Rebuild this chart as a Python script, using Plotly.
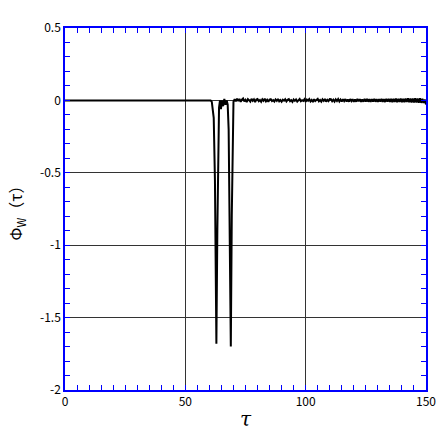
import numpy as np
import plotly.graph_objects as go

# flat part and the two dips
tau_head = [0, 60.5, 61.0, 61.8, 62.3, 62.9, 63.3, 63.6, 64.0, 64.4, 64.8, 65.2,
            65.7, 66.2, 66.7, 67.2, 67.6, 68.0, 68.5, 68.9, 69.3, 69.7, 70.0]
phi_head = [0.0, 0.0, -0.01, -0.12, -0.55, -1.68, -0.9, -0.25, -0.05, 0.0, -0.06, 0.0,
            -0.04, 0.01, -0.03, 0.0, -0.03, -0.2, -0.9, -1.70, -0.8, -0.15, -0.01]

# noisy tail, sampled every 0.5 from 70.5 to 150
tau_tail = np.arange(70.5, 150.01, 0.5)
phi_tail = [
    0.008, -0.006, 0.012, -0.004, 0.010, -0.010, 0.005, 0.013, -0.007, 0.004,
    -0.012, 0.009, 0.002, -0.008, 0.011, -0.003, 0.007, -0.011, 0.006, 0.010,
    -0.005, 0.003, -0.009, 0.008, -0.002, 0.012, -0.007, 0.004, -0.010, 0.006,
    0.009, -0.004, 0.002, -0.008, 0.007, -0.003, 0.010, -0.006, 0.003, -0.009,
    0.005, -0.002, 0.008, -0.007, 0.004, 0.009, -0.005, 0.002, -0.010, 0.006,
    -0.003, 0.007, -0.008, 0.004, 0.010, -0.006, 0.001, -0.004, 0.008, -0.009,
    0.006, -0.002, 0.009, -0.007, 0.003, -0.011, 0.008, -0.004, 0.005, 0.011,
    -0.006, 0.002, -0.009, 0.007, -0.003, 0.010, -0.008, 0.004, -0.005, 0.009,
    0.008, -0.006, 0.005, -0.008, 0.007, -0.004, 0.009, -0.007, 0.006, -0.008,
    0.008, -0.005, 0.009, -0.008, 0.006, -0.009, 0.009, -0.005, 0.008, -0.009,
    0.007, -0.009, 0.010, -0.007, 0.009, -0.010, 0.007, -0.009, 0.010, -0.008,
    0.010, -0.009, 0.008, -0.010, 0.009, -0.008, 0.011, -0.009, 0.008, -0.010,
    0.009, -0.008, 0.011, -0.010, 0.009, -0.011, 0.010, -0.009, 0.011, -0.010,
    0.010, -0.012, 0.011, -0.010, 0.012, -0.013, 0.010, -0.011, 0.012, -0.012,
    0.011, -0.013, 0.012, -0.011, 0.014, -0.013, 0.012, -0.014, 0.013, -0.014,
    0.014, -0.015, 0.013, -0.016, 0.015, -0.017, 0.012, -0.018, 0.006, -0.028,
]

x_ticks = [0, 50, 100, 150]
y_ticks = [0.5, 0, -0.5, -1, -1.5, -2]
y_labels = ["0.5", "0", "-0.5", "-1", "-1.5", "-2"]

tau = list(tau_head) + list(tau_tail)
phi = list(phi_head) + list(phi_tail)

fig = go.Figure()
fig.add_trace(go.Scatter(x=tau, y=phi, mode="lines", cliponaxis=False,
                         line=dict(color="black", width=2), showlegend=False))

axis_style = dict(
    showline=True, linecolor="blue", linewidth=1.5, mirror="ticks",
    ticks="inside", ticklen=5, tickcolor="blue", tickwidth=1,
    showgrid=True, gridcolor="#333333", gridwidth=1, zeroline=False,
    automargin=False, ticklabeloverflow="allow",
    tickfont=dict(family="Noto Sans CJK JP", size=12, color="black"),
)

fig.update_xaxes(range=[0, 150], tickvals=x_ticks, ticktext=[str(t) for t in x_ticks],
                 minor=dict(dtick=5, ticks="inside", ticklen=5, tickcolor="blue", showgrid=False),
                 title=dict(text="<i>τ</i>", font=dict(family="DejaVu Serif", size=20, color="black"),
                            standoff=4),
                 **axis_style)
fig.update_yaxes(range=[-2, 0.5], tickvals=y_ticks, ticktext=y_labels,
                 minor=dict(dtick=0.1, ticks="inside", ticklen=5, tickcolor="blue", showgrid=False),
                 title=dict(text="Φ<sub>W</sub>（τ）", font=dict(family="Noto Sans CJK JP", size=16, color="black"),
                            standoff=13),
                 **axis_style)

fig.update_layout(
    width=436, height=448,
    margin=dict(l=65, r=10, t=28, b=58),
    plot_bgcolor="white", paper_bgcolor="white",
)

# drop the default page margin so the figure fills the window exactly
fig.write_html("out.html", config={"displayModeBar": False},
               post_script="document.body.style.margin='0';document.body.style.overflow='hidden';")
